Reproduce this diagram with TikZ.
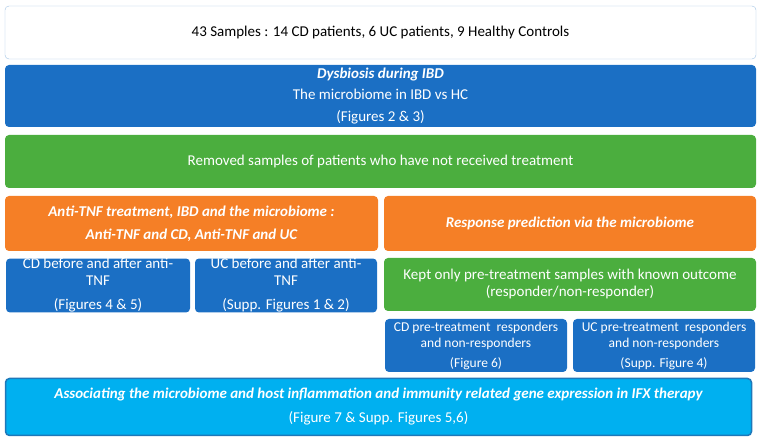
\documentclass[tikz,border=0pt]{standalone}
\usepackage{fontspec}
\setmainfont{Carlito}
\usetikzlibrary{positioning}

\definecolor{ibdblue}{RGB}{27,111,196}
\definecolor{ibdgreen}{RGB}{75,174,62}
\definecolor{ibdorange}{RGB}{245,127,38}
\definecolor{ibdcyan}{RGB}{0,176,240}
\definecolor{cyanedge}{RGB}{30,120,185}
\definecolor{topedge}{RGB}{160,195,228}

\begin{document}
\begin{tikzpicture}[x=1pt,y=-1pt,
  box/.style={rounded corners=4pt,inner sep=0pt,align=center,text=white,
    font=\fontsize{15}{21.5}\selectfont},
  small/.style={box,fill=ibdblue,minimum width=182pt,minimum height=53pt,
    font=\fontsize{15}{17}\selectfont}]
\useasboundingbox (0,0) rectangle (761,443);

\node[box,draw=topedge,fill=white,text=black,minimum width=751pt,minimum height=53pt]
  (samples) at (380.5,32.5) {43 Samples : 14 CD patients, 6 UC patients, 9 Healthy Controls};
\node[box,fill=ibdblue,minimum width=751pt,minimum height=62pt]
  (dysbiosis) at (380.5,96) {\bfseries\itshape Dysbiosis during IBD\\The microbiome in IBD vs HC\\(Figures 2 \& 3)};
\node[box,fill=ibdgreen,minimum width=751pt,minimum height=53pt]
  (removed) at (380.5,161.5) {Removed samples of patients who have not received treatment};

\node[box,fill=ibdorange,minimum width=373pt,minimum height=55pt,
  font=\fontsize{15}{23}\selectfont\bfseries\itshape]
  (antitnf) at (191.5,223.5) {Anti-TNF treatment, IBD and the microbiome :\\Anti-TNF and CD, Anti-TNF and UC};
\node[box,fill=ibdorange,minimum width=372pt,minimum height=55pt,font=\fontsize{15}{23}\selectfont\bfseries\itshape]
  (predict) at (570,223.5) {Response prediction via the microbiome};

\node[small,minimum width=184pt] (cdanti) at (98,285.5) {CD before and after anti-\\TNF\\[7pt](Figures 4 \& 5)};
\node[small] (ucanti) at (286,285.5) {UC before and after anti-\\TNF\\[7pt](Supp. Figures 1 \& 2)};
\node[box,fill=ibdgreen,minimum width=372pt,minimum height=53pt,font=\fontsize{15}{17}\selectfont]
  (kept) at (570,284.5) {Kept only pre-treatment samples with known outcome\\(responder/non-responder)};

\node[small,font=\fontsize{13.5}{16}\selectfont] (cdresp) at (476,345.5) {CD pre-treatment\ \ responders\\and non-responders\\[4pt](Figure 6)};
\node[small,font=\fontsize{13.5}{16}\selectfont] (ucresp) at (664,345.5) {UC pre-treatment\ \ responders\\and non-responders\\[4pt](Supp. Figure 4)};

\node[box,draw=cyanedge,line width=1.5pt,fill=ibdcyan,minimum width=746pt,minimum height=57pt,
  font=\fontsize{15}{24}\selectfont]
  (assoc) at (378.5,407) {\bfseries\itshape Associating the microbiome and host inflammation and immunity related gene expression in IFX therapy\\(Figure 7 \& Supp. Figures 5,6)};
\end{tikzpicture}
\end{document}
